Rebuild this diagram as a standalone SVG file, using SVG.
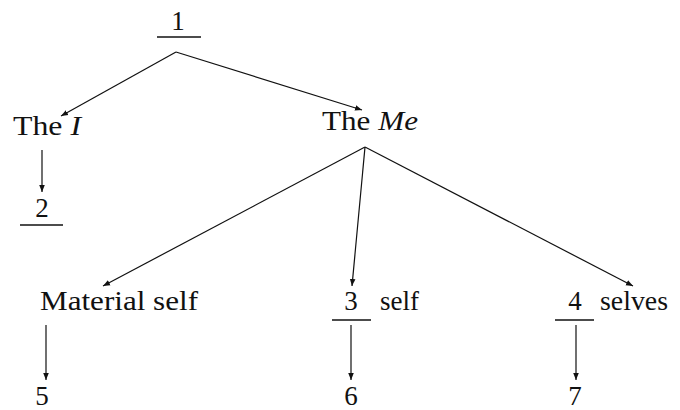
<svg xmlns="http://www.w3.org/2000/svg" width="680" height="410" viewBox="0 0 680 410">
<defs>
<marker id="ah" viewBox="0 0 10 10" refX="10" refY="5" markerWidth="7" markerHeight="7" orient="auto" markerUnits="userSpaceOnUse">
<path d="M0,1 L10,5 L0,9 z" fill="#111"/>
</marker>
</defs>
<rect width="680" height="410" fill="#fff"/>
<g id="n1"><text font-family="Liberation Serif" font-size="27" fill="#111" x="178" y="30" text-anchor="middle">1</text><line stroke="#111" stroke-width="1.5" x1="157" y1="37" x2="201" y2="37"/></g>
<g id="theI"><text font-family="Liberation Serif" font-size="27" fill="#111" x="13" y="135" textLength="68" lengthAdjust="spacingAndGlyphs">The <tspan font-style="italic">I</tspan></text></g>
<g id="n2"><text font-family="Liberation Serif" font-size="27" fill="#111" x="42" y="217" text-anchor="middle">2</text><line stroke="#111" stroke-width="1.5" x1="20" y1="225" x2="63" y2="225"/></g>
<g id="theMe"><text font-family="Liberation Serif" font-size="27" fill="#111" x="322" y="130" textLength="96" lengthAdjust="spacingAndGlyphs">The <tspan font-style="italic">Me</tspan></text></g>
<g id="material"><text font-family="Liberation Serif" font-size="27" fill="#111" x="40" y="310" textLength="158" lengthAdjust="spacingAndGlyphs">Material self</text></g>
<g id="n3self"><text font-family="Liberation Serif" font-size="27" fill="#111" x="351" y="310" text-anchor="middle">3</text><line stroke="#111" stroke-width="1.5" x1="332" y1="320" x2="371" y2="320"/><text font-family="Liberation Serif" font-size="27" fill="#111" x="380" y="310">self</text></g>
<g id="n4selves"><text font-family="Liberation Serif" font-size="27" fill="#111" x="575" y="310" text-anchor="middle">4</text><line stroke="#111" stroke-width="1.5" x1="555" y1="320" x2="594" y2="320"/><text font-family="Liberation Serif" font-size="27" fill="#111" x="600" y="310" textLength="68" lengthAdjust="spacingAndGlyphs">selves</text></g>
<g id="n5"><text font-family="Liberation Serif" font-size="27" fill="#111" x="42" y="405" text-anchor="middle">5</text></g>
<g id="n6"><text font-family="Liberation Serif" font-size="27" fill="#111" x="351" y="405" text-anchor="middle">6</text></g>
<g id="n7"><text font-family="Liberation Serif" font-size="27" fill="#111" x="575" y="405" text-anchor="middle">7</text></g>
<g id="connectors" stroke="#111" stroke-width="1.2" fill="none" marker-end="url(#ah)">
<line x1="176" y1="52" x2="61" y2="116"/>
<line x1="176" y1="52" x2="362" y2="110"/>
<line x1="42" y1="150" x2="42" y2="192"/>
<line x1="365" y1="147" x2="103" y2="286"/>
<line x1="365" y1="147" x2="352" y2="286"/>
<line x1="365" y1="147" x2="633" y2="286"/>
<line x1="46" y1="325" x2="46" y2="380"/>
<line x1="351" y1="325" x2="351" y2="380"/>
<line x1="576" y1="325" x2="576" y2="380"/>
</g>
</svg>
